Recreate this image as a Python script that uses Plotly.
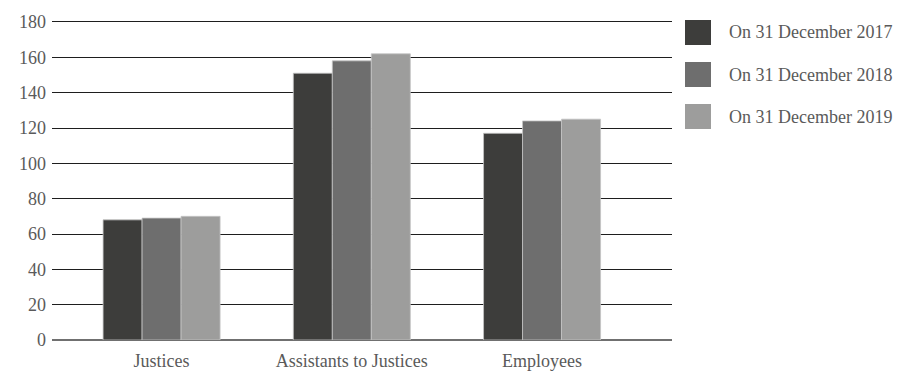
import plotly.graph_objects as go

# Staff numbers by category at year end
categories = ["Justices", "Assistants to Justices", "Employees"]
series_names = ["On 31 December 2017", "On 31 December 2018", "On 31 December 2019"]
values_2017 = [68, 151, 117]
values_2018 = [69, 158, 124]
values_2019 = [70, 162, 125]
series_values = [values_2017, values_2018, values_2019]
series_colors = ["#3d3d3b", "#6e6e6e", "#9d9d9c"]
y_ticks = [0, 20, 40, 60, 80, 100, 120, 140, 160, 180]

W, H = 903, 373
L, R, T, B = 52, 231, 18, 33
plot_w = W - L - R
plot_h = H - T - B

FONT = "Liberation Serif"
TEXT_COLOR = "#5a5a5a"
FS = 18

fig = go.Figure()
for name, vals, col in zip(series_names, series_values, series_colors):
    fig.add_trace(go.Bar(
        x=categories, y=vals, name=name,
        marker=dict(color=col, line=dict(color="#c4c4c4", width=0.8)),
        showlegend=False,
    ))


def px_x(px):
    return (px - L) / plot_w


def px_y(py):
    return (H - B - py) / plot_h


# Custom legend: large swatches with labels to the right of the plot
shapes = []
annotations = []
for i, (name, col) in enumerate(zip(series_names, series_colors)):
    top = 20 + i * 42
    shapes.append(dict(
        type="rect", xref="paper", yref="paper",
        x0=px_x(685), x1=px_x(711), y0=px_y(top + 25), y1=px_y(top),
        fillcolor=col, line=dict(width=0),
    ))
    annotations.append(dict(
        xref="paper", yref="paper", x=px_x(727), y=px_y(top + 12.5),
        xanchor="left", yanchor="middle", text=name, showarrow=False,
        font=dict(family=FONT, size=FS, color=TEXT_COLOR),
    ))

fig.update_layout(
    width=W, height=H,
    margin=dict(l=L, r=R, t=T, b=B, pad=0, autoexpand=False),
    paper_bgcolor="white", plot_bgcolor="white",
    barmode="group", bargap=0.385, bargroupgap=0,
    font=dict(family=FONT, size=FS, color=TEXT_COLOR),
    shapes=shapes, annotations=annotations,
    xaxis=dict(
        range=[-0.576, 2.683], showgrid=False, showline=False,
        ticks="", tickfont=dict(size=FS), ticklabelstandoff=8,
        automargin=False,
    ),
    yaxis=dict(
        range=[0, 182.26], tickvals=y_ticks, showgrid=True,
        gridcolor="#1e1e1e", gridwidth=1,
        zeroline=True, zerolinecolor="#707070", zerolinewidth=2,
        showline=False, ticks="", ticklabelstandoff=5,
        tickfont=dict(size=FS), automargin=False,
    ),
)

fig.write_html("out.html")
